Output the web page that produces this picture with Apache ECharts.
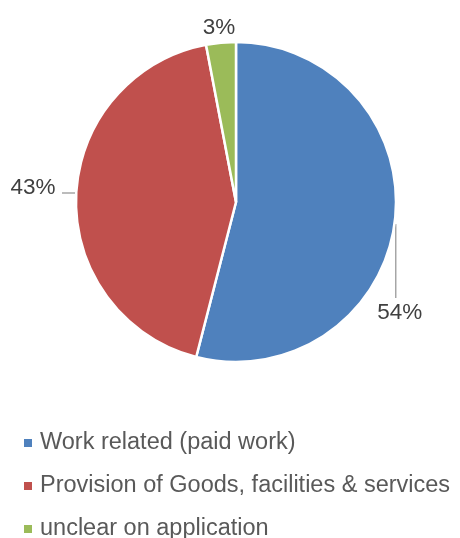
<!DOCTYPE html>
<html>
<head>
<meta charset="utf-8">
<script src="https://cdn.jsdelivr.net/npm/echarts@6/dist/echarts.min.js"></script>
<style>
  html, body { margin: 0; padding: 0; background: #ffffff; }
  #chart { width: 460px; height: 538px; }
</style>
</head>
<body>
<div id="chart"></div>
<script>
// Complaint categories and their share (%)
const categories = [
  'Work related (paid work)',
  'Provision of Goods, facilities & services',
  'unclear on application'
];
const shares = [54, 43, 3];
const colors = ['#4F81BD', '#C0504D', '#9BBB59'];

const chart = echarts.init(document.getElementById('chart'), null, { renderer: 'canvas' });

const cx = 236, cy = 202, r = 160;

// Where each percentage label sits, plus its leader-line end
function placeLabel(params) {
  const i = params.dataIndex;
  const start = params.labelLinePoints ? params.labelLinePoints[0] : [cx, cy];
  if (i === 0) {
    const x = start[0] + 1;
    return {
      x: x + 4, y: 313, align: 'center', verticalAlign: 'middle',
      labelLinePoints: [[x, start[1] + 2], [x, 298], [x, 298]]
    };
  }
  if (i === 1) {
    return {
      x: 33, y: 188, align: 'center', verticalAlign: 'middle',
      labelLinePoints: [[76, 193], [62, 193], [62, 193]]
    };
  }
  return { x: 219, y: 28, align: 'center', verticalAlign: 'middle' };
}

chart.setOption({
  animation: false,
  color: colors,
  legend: {
    orient: 'vertical',
    left: 24,
    top: 431,
    height: 200,
    padding: 0,
    itemWidth: 8,
    itemHeight: 8,
    itemGap: 19,
    icon: 'rect',
    itemStyle: { borderWidth: 0 },
    textStyle: {
      fontFamily: 'Liberation Sans, Arial, sans-serif',
      fontSize: 23.5,
      color: '#595959',
      padding: [0, 0, 0, 3]
    },
    data: categories
  },
  series: [{
    type: 'pie',
    center: [cx, cy],
    radius: [0, r],
    startAngle: 90,
    clockwise: true,
    avoidLabelOverlap: false,
    itemStyle: { borderColor: '#ffffff', borderWidth: 2.5 },
    label: {
      show: true,
      position: 'outside',
      overflow: 'none',
      formatter: '{c}%',
      fontFamily: 'Liberation Sans, Arial, sans-serif',
      fontSize: 22.5,
      color: '#404040'
    },
    labelLine: {
      show: true,
      lineStyle: { color: '#A6A6A6', width: 1.5 }
    },
    labelLayout: placeLabel,
    data: categories.map((name, i) => ({
      name: name,
      value: shares[i],
      labelLine: i === 2 ? { show: false } : undefined
    }))
  }]
});
</script>
</body>
</html>
